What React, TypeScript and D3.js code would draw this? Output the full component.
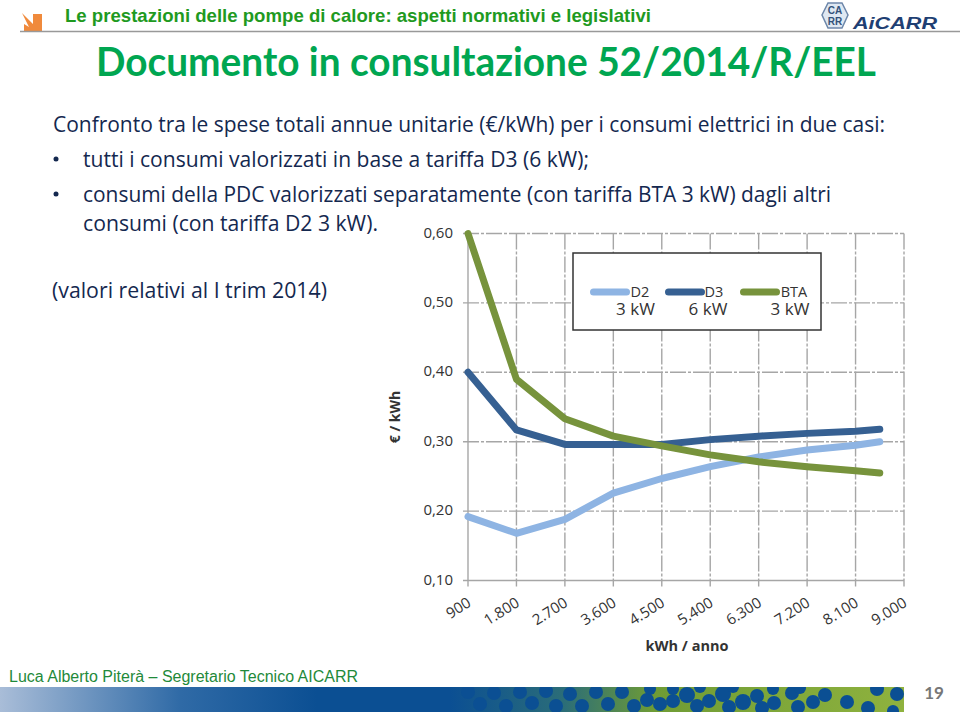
import React from 'react';
import * as d3 from 'd3';

const xValues = [900, 1800, 2700, 3600, 4500, 5400, 6300, 7200, 8100, 8550];
const xTicks = [900, 1800, 2700, 3600, 4500, 5400, 6300, 7200, 8100, 9000];
const yTicks = [0.1, 0.2, 0.3, 0.4, 0.5, 0.6];
const d2Values = [0.192, 0.168, 0.188, 0.226, 0.247, 0.264, 0.278, 0.288, 0.295, 0.3];
const d3Values = [0.4, 0.317, 0.296, 0.296, 0.296, 0.303, 0.308, 0.312, 0.315, 0.318];
const btaValues = [0.6, 0.39, 0.333, 0.308, 0.294, 0.281, 0.271, 0.264, 0.258, 0.255];
const seriesList = [
  { name: 'D2', power: '3 kW', color: '#8eb4e3', values: d2Values },
  { name: 'D3', power: '6 kW', color: '#366092', values: d3Values },
  { name: 'BTA', power: '3 kW', color: '#77933c', values: btaValues },
];
// footer dots, read roughly off the strip: x, y, radius
const footerDots: [number, number, number][] = [
  [468, 692, 7], [480, 704, 7], [494, 693, 7], [506, 706, 7], [520, 692, 7], [532, 703, 7], [546, 691, 7],
  [556, 706, 7], [570, 694, 7], [582, 706, 7], [596, 692, 7], [608, 704, 7], [622, 692, 7], [634, 706, 7],
  [647, 700, 7], [650, 689, 6], [660, 704, 7], [673, 701, 7], [673, 689, 6], [687, 695, 8], [697, 706, 7],
  [700, 687, 6], [709, 701, 7], [723, 694, 8], [729, 707, 7], [733, 687, 6], [743, 702, 8], [757, 696, 7],
  [762, 708, 7], [773, 689, 6], [774, 703, 7], [792, 693, 7], [798, 707, 7], [800, 688, 6], [813, 702, 7],
  [825, 695, 7], [847, 702, 7], [868, 708, 7], [877, 689, 7], [897, 694, 7], [893, 711, 6],
];

const bodyFont = '"Open Sans", sans-serif';
const chartFont = '"Open Sans", sans-serif';
const green = '#00a651';

const xScale = d3.scaleLinear().domain([900, 9000]).range([468, 904]);
const yScale = d3.scaleLinear().domain([0.1, 0.6]).range([580.5, 233.5]);
const fmtX = (v: number) => d3.format(',')(v).replace(',', '.');
const fmtY = (v: number) => v.toFixed(2).replace('.', ',');

const lineFor = d3
  .line<number>()
  .x((_, i) => xScale(xValues[i]))
  .y((d) => yScale(d))
  .curve(d3.curveLinear);

const App: React.FC = () => {
  const legendX = [[593.5, 626.5], [668.5, 701.5], [743.5, 776.5]];
  return (
    <svg
      width={960}
      height={712}
      style={{ position: 'absolute', left: 0, top: 0, background: '#fff' }}
    >
      <defs>
        <linearGradient id="footerGrad" x1="0" x2="1" y1="0" y2="0">
          <stop offset="0" stopColor="#a9bdd8" />
          <stop offset="0.2" stopColor="#2f6aa6" />
          <stop offset="0.35" stopColor="#0b4f93" />
          <stop offset="1" stopColor="#0b4f93" />
        </linearGradient>
        <linearGradient id="footerDots" x1="0" x2="1" y1="0" y2="0">
          <stop offset="0" stopColor="#0b4f93" />
          <stop offset="0.25" stopColor="#2b6d78" />
          <stop offset="0.45" stopColor="#6f9c35" />
          <stop offset="1" stopColor="#8fb23e" />
        </linearGradient>
      </defs>

      {/* Header */}
      <path d="M22 13 L33 24 L33 14 L42 14 L42 32 L24 32 L24 24 L29 27 Z" fill="#f08a3c" />
      <text x={65} y={21.5} fontFamily="Liberation Sans" fontWeight="bold" fontSize={19} fill="#1f9a1f" textLength={586} lengthAdjust="spacingAndGlyphs">
        Le prestazioni delle pompe di calore: aspetti normativi e legislativi
      </text>
      <line x1={20} x2={960} y1={31.5} y2={31.5} stroke="#999" strokeWidth={1.5} />
      <path d="M828 3 L842 3 L848 15 L842 28 L828 28 L822 15 Z" fill="#dfe8f2" stroke="#6d87aa" strokeWidth={1.5} />
      <text x={835} y={14} textAnchor="middle" fontFamily="Liberation Sans" fontWeight="bold" fontSize={10} fill="#33527a">CA</text>
      <text x={835} y={25} textAnchor="middle" fontFamily="Liberation Sans" fontWeight="bold" fontSize={10} fill="#33527a">RR</text>
      <text x={853} y={29} fontFamily="Liberation Sans" fontWeight="bold" fontStyle="italic" fontSize={16} fill="#1f3f73" textLength={84} lengthAdjust="spacingAndGlyphs">AiCARR</text>

      <text x={486} y={76} textAnchor="middle" fontFamily="Lato" fontWeight="bold" fontSize={41} fill={green} textLength={780} lengthAdjust="spacingAndGlyphs">
        Documento in consultazione 52/2014/R/EEL
      </text>

      {/* Body */}
      <g fontFamily={bodyFont} fontSize={21} fill="#14284f">
        <text x={53} y={132} textLength={832} lengthAdjust="spacingAndGlyphs">Confronto tra le spese totali annue unitarie (€/kWh) per i consumi elettrici in due casi:</text>
        <circle cx={56} cy={159} r={2.5} />
        <text x={83} y={167} textLength={506} lengthAdjust="spacingAndGlyphs">tutti i consumi valorizzati in base a tariffa D3 (6 kW);</text>
        <circle cx={56} cy={194} r={2.5} />
        <text x={83} y={202} textLength={748} lengthAdjust="spacingAndGlyphs">consumi della PDC valorizzati separatamente (con tariffa BTA 3 kW) dagli altri</text>
        <text x={83} y={231} textLength={295} lengthAdjust="spacingAndGlyphs">consumi (con tariffa D2 3 kW).</text>
        <text x={52} y={298} textLength={275} lengthAdjust="spacingAndGlyphs">(valori relativi al I trim 2014)</text>
      </g>

      {/* Grid */}
      <g stroke="#a6a6a6" strokeWidth={1.4}>
        {yTicks.map((t) => (
          <line key={t} x1={xScale(900) - 5} x2={xScale(9000)} y1={yScale(t)} y2={yScale(t)} strokeDasharray={t === 0.1 ? undefined : '16 2 3 2'} />
        ))}
        {xTicks.map((t) => (
          <line key={t} x1={xScale(t)} x2={xScale(t)} y1={yScale(0.6)} y2={yScale(0.1) + 6} strokeDasharray={t === 900 ? undefined : '16 2 3 2'} />
        ))}
      </g>

      {/* Y labels */}
      <g fontFamily={chartFont} fontSize={15} fill="#333" textAnchor="end">
        {yTicks.map((t) => (
          <text key={t} x={453} y={yScale(t) + 4}>{fmtY(t)}</text>
        ))}
      </g>
      <text transform={`translate(400,417) rotate(-90)`} textAnchor="middle" fontFamily={chartFont} fontWeight="bold" fontSize={14} fill="#333">€ / kWh</text>

      {/* X labels */}
      <g fontFamily={chartFont} fontSize={15} fill="#333" textAnchor="end">
        {xTicks.map((t) => (
          <text key={t} transform={`translate(${xScale(t) + 4},${yScale(0.1) + 25}) rotate(-32)`}>{fmtX(t)}</text>
        ))}
      </g>
      <text x={687} y={651} textAnchor="middle" fontFamily={chartFont} fontWeight="bold" fontSize={14.5} fill="#333">kWh / anno</text>

      {/* Lines */}
      {seriesList.map((s) => (
        <path key={s.name} d={lineFor(s.values) ?? ''} fill="none" stroke={s.color} strokeWidth={7} strokeLinejoin="round" strokeLinecap="round" />
      ))}

      {/* Legend */}
      <rect x={573} y={253} width={248} height={77} fill="#fff" stroke="#333" strokeWidth={1.5} />
      {seriesList.map((s, i) => (
        <line key={s.name} x1={legendX[i][0]} x2={legendX[i][1]} y1={292} y2={292} stroke={s.color} strokeWidth={7} strokeLinecap="round" />
      ))}
      <g fontFamily={chartFont} fill="#333" textAnchor="middle">
        <g fontSize={14.5}>
          <text x={640} y={297}>D2</text>
          <text x={714} y={297}>D3</text>
          <text x={794} y={297}>BTA</text>
        </g>
        <g fontSize={17}>
          <text x={635.5} y={315}>3 kW</text>
          <text x={708} y={315}>6 kW</text>
          <text x={790} y={315}>3 kW</text>
        </g>
      </g>

      {/* Footer */}
      <text x={9} y={682} fontFamily="Liberation Sans" fontSize={16} fill="#1f8a3a" textLength={349} lengthAdjust="spacingAndGlyphs">
        Luca Alberto Piterà – Segretario Tecnico AICARR
      </text>
      <rect x={0} y={687} width={904} height={25} fill="url(#footerGrad)" />
      <rect x={450} y={687} width={454} height={25} fill="url(#footerDots)" />
      <clipPath id="footerClip">
        <rect x={450} y={687} width={454} height={25} />
      </clipPath>
      <g fill="#0b4f93" clipPath="url(#footerClip)">
        {footerDots.map(([x, y, r], i) => (
          <circle key={i} cx={x} cy={y} r={r} />
        ))}
      </g>
      <text x={934} y={699} textAnchor="middle" fontFamily="Lato" fontWeight="bold" fontSize={17} fill="#777">19</text>
    </svg>
  );
};

export default App;
